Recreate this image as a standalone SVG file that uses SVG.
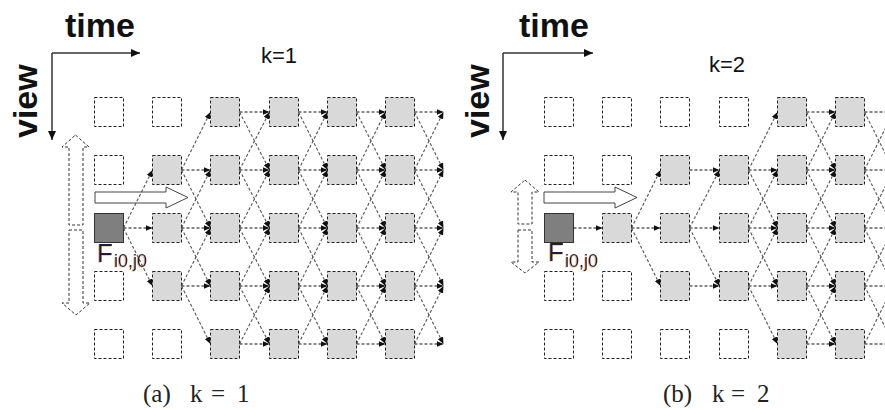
<svg xmlns="http://www.w3.org/2000/svg" width="885" height="410" viewBox="0 0 885 410">
<defs>
<style>
.e{fill:#fff;stroke:#222;stroke-width:1;stroke-dasharray:3,2}
.g{fill:#d9d9d9;stroke:#222;stroke-width:1;stroke-dasharray:3,2}
.f{fill:#7f7f7f;stroke:#333;stroke-width:1}
.h{stroke:#111;stroke-width:1.1;stroke-dasharray:3,2;marker-end:url(#ah)}
.d{stroke:#555;stroke-width:1.1;stroke-dasharray:3,2;marker-end:url(#ah)}
.ax{stroke:#333;stroke-width:1.5;fill:none;marker-end:url(#axh)}
.big{fill:#fff;stroke:#444;stroke-width:1}
.dbl{fill:#fff;stroke:#333;stroke-width:1;stroke-dasharray:3,2}
.lbl{font-family:"Liberation Sans",Arial,sans-serif;font-weight:bold;font-size:34px;fill:#111}
.k{font-family:"Liberation Sans",Arial,sans-serif;font-size:22px;fill:#111}
.F{font-family:"Liberation Sans",Arial,sans-serif;font-size:26px;fill:#1a1a3a}
.sub{font-size:18px}
.cap{font-family:"Liberation Serif","Times New Roman",serif;font-size:25px;fill:#222}
</style>
<marker id="ah" markerWidth="7" markerHeight="6" refX="7" refY="3" orient="auto" markerUnits="userSpaceOnUse"><path d="M0,0 L7,3 L0,6 Z" fill="#111"/></marker>
<marker id="axh" markerWidth="9" markerHeight="8" refX="9" refY="4" orient="auto" markerUnits="userSpaceOnUse"><path d="M0,0 L9,4 L0,8 Z" fill="#111"/></marker>
<filter id="sh" x="-20%" y="-20%" width="140%" height="140%"><feDropShadow dx="-0.8" dy="0.6" stdDeviation="0" flood-color="#e08020" flood-opacity="0.6"/></filter>
</defs>

<!-- axes and labels -->
<g id="axes-a">
<path class="ax" d="M52,53 H140"/>
<path class="ax" d="M52,53 V140"/>
<text class="lbl" x="65" y="37">time</text>
<text class="lbl" transform="translate(37,138) rotate(-90)">view</text>
<text class="k" x="261" y="63">k=1</text>
</g>
<g id="axes-b">
<path class="ax" d="M503,53 H593"/>
<path class="ax" d="M503,53 V140"/>
<text class="lbl" x="519" y="37">time</text>
<text class="lbl" transform="translate(489,138) rotate(-90)">view</text>
<text class="k" x="709" y="72">k=2</text>
</g>

<!-- hollow arrows -->
<g id="hollow-a">
<path class="big" d="M95,192 H166 V187 L188,197.5 L166,208 V203 H95 Z"/>
<path class="dbl" d="M75.5,135 L89,147 H83 V225 H69 V147 H62 Z"/>
<path class="dbl" d="M69,230 H83 V303 H90 L76,315 L62,303 H69 Z"/>
</g>
<g id="hollow-b">
<path class="big" d="M544,192 H615 V187 L637,197.5 L615,208 V203 H544 Z"/>
<path class="dbl" d="M525,180 L539,192 H532 V224 H518 V192 H511 Z"/>
<path class="dbl" d="M518,230 H532 V262 H539 L525,273 L511,262 H518 Z"/>
</g>

<!-- nodes panel a -->
<g id="a-c0r0"><rect class="e" x="94.5" y="97.5" width="29" height="29"/></g>
<g id="a-c0r1"><rect class="e" x="94.5" y="155.5" width="29" height="29"/></g>
<g id="a-F"><rect class="f" x="94.5" y="213.5" width="29" height="29"/></g>
<g id="a-c0r3"><rect class="e" x="94.5" y="271.5" width="29" height="29"/></g>
<g id="a-c0r4"><rect class="e" x="94.5" y="329.5" width="29" height="29"/></g>
<g id="a-c1r0"><rect class="e" x="152.5" y="97.5" width="29" height="29"/></g>
<g id="a-c1r1"><rect class="g" x="152.5" y="155.5" width="29" height="29"/></g>
<g id="a-c1r2"><rect class="g" x="152.5" y="213.5" width="29" height="29"/></g>
<g id="a-c1r3"><rect class="g" x="152.5" y="271.5" width="29" height="29"/></g>
<g id="a-c1r4"><rect class="e" x="152.5" y="329.5" width="29" height="29"/></g>
<g id="a-c2r0"><rect class="g" x="210.5" y="97.5" width="29" height="29"/></g>
<g id="a-c2r1"><rect class="g" x="210.5" y="155.5" width="29" height="29"/></g>
<g id="a-c2r2"><rect class="g" x="210.5" y="213.5" width="29" height="29"/></g>
<g id="a-c2r3"><rect class="g" x="210.5" y="271.5" width="29" height="29"/></g>
<g id="a-c2r4"><rect class="g" x="210.5" y="329.5" width="29" height="29"/></g>
<g id="a-c3r0"><rect class="g" x="269.5" y="97.5" width="29" height="29"/></g>
<g id="a-c3r1"><rect class="g" x="269.5" y="155.5" width="29" height="29"/></g>
<g id="a-c3r2"><rect class="g" x="269.5" y="213.5" width="29" height="29"/></g>
<g id="a-c3r3"><rect class="g" x="269.5" y="271.5" width="29" height="29"/></g>
<g id="a-c3r4"><rect class="g" x="269.5" y="329.5" width="29" height="29"/></g>
<g id="a-c4r0"><rect class="g" x="327.5" y="97.5" width="29" height="29"/></g>
<g id="a-c4r1"><rect class="g" x="327.5" y="155.5" width="29" height="29"/></g>
<g id="a-c4r2"><rect class="g" x="327.5" y="213.5" width="29" height="29"/></g>
<g id="a-c4r3"><rect class="g" x="327.5" y="271.5" width="29" height="29"/></g>
<g id="a-c4r4"><rect class="g" x="327.5" y="329.5" width="29" height="29"/></g>
<g id="a-c5r0"><rect class="g" x="385.5" y="97.5" width="29" height="29"/></g>
<g id="a-c5r1"><rect class="g" x="385.5" y="155.5" width="29" height="29"/></g>
<g id="a-c5r2"><rect class="g" x="385.5" y="213.5" width="29" height="29"/></g>
<g id="a-c5r3"><rect class="g" x="385.5" y="271.5" width="29" height="29"/></g>
<g id="a-c5r4"><rect class="g" x="385.5" y="329.5" width="29" height="29"/></g>

<!-- nodes panel b -->
<g id="b-c0r0"><rect class="e" x="544.5" y="97.5" width="29" height="29"/></g>
<g id="b-c0r1"><rect class="e" x="544.5" y="155.5" width="29" height="29"/></g>
<g id="b-F"><rect class="f" x="544.5" y="213.5" width="29" height="29"/></g>
<g id="b-c0r3"><rect class="e" x="544.5" y="271.5" width="29" height="29"/></g>
<g id="b-c0r4"><rect class="e" x="544.5" y="329.5" width="29" height="29"/></g>
<g id="b-c1r0"><rect class="e" x="602.5" y="97.5" width="29" height="29"/></g>
<g id="b-c1r1"><rect class="e" x="602.5" y="155.5" width="29" height="29"/></g>
<g id="b-c1r2"><rect class="g" x="602.5" y="213.5" width="29" height="29"/></g>
<g id="b-c1r3"><rect class="e" x="602.5" y="271.5" width="29" height="29"/></g>
<g id="b-c1r4"><rect class="e" x="602.5" y="329.5" width="29" height="29"/></g>
<g id="b-c2r0"><rect class="e" x="660.5" y="97.5" width="29" height="29"/></g>
<g id="b-c2r1"><rect class="g" x="660.5" y="155.5" width="29" height="29"/></g>
<g id="b-c2r2"><rect class="g" x="660.5" y="213.5" width="29" height="29"/></g>
<g id="b-c2r3"><rect class="g" x="660.5" y="271.5" width="29" height="29"/></g>
<g id="b-c2r4"><rect class="e" x="660.5" y="329.5" width="29" height="29"/></g>
<g id="b-c3r0"><rect class="e" x="719.5" y="97.5" width="29" height="29"/></g>
<g id="b-c3r1"><rect class="g" x="719.5" y="155.5" width="29" height="29"/></g>
<g id="b-c3r2"><rect class="g" x="719.5" y="213.5" width="29" height="29"/></g>
<g id="b-c3r3"><rect class="g" x="719.5" y="271.5" width="29" height="29"/></g>
<g id="b-c3r4"><rect class="e" x="719.5" y="329.5" width="29" height="29"/></g>
<g id="b-c4r0"><rect class="g" x="777.5" y="97.5" width="29" height="29"/></g>
<g id="b-c4r1"><rect class="g" x="777.5" y="155.5" width="29" height="29"/></g>
<g id="b-c4r2"><rect class="g" x="777.5" y="213.5" width="29" height="29"/></g>
<g id="b-c4r3"><rect class="g" x="777.5" y="271.5" width="29" height="29"/></g>
<g id="b-c4r4"><rect class="g" x="777.5" y="329.5" width="29" height="29"/></g>
<g id="b-c5r0"><rect class="g" x="835.5" y="97.5" width="29" height="29"/></g>
<g id="b-c5r1"><rect class="g" x="835.5" y="155.5" width="29" height="29"/></g>
<g id="b-c5r2"><rect class="g" x="835.5" y="213.5" width="29" height="29"/></g>
<g id="b-c5r3"><rect class="g" x="835.5" y="271.5" width="29" height="29"/></g>
<g id="b-c5r4"><rect class="g" x="835.5" y="329.5" width="29" height="29"/></g>

<!-- connectors -->
<g id="connectors">
<line class="d" x1="123.5" y1="228" x2="152.5" y2="170"/>
<line class="h" x1="123.5" y1="228" x2="152.5" y2="228"/>
<line class="d" x1="123.5" y1="228" x2="152.5" y2="286"/>
<line class="d" x1="181.5" y1="170" x2="210.5" y2="112"/>
<line class="h" x1="181.5" y1="170" x2="210.5" y2="170"/>
<line class="d" x1="181.5" y1="170" x2="210.5" y2="228"/>
<line class="d" x1="181.5" y1="228" x2="210.5" y2="170"/>
<line class="h" x1="181.5" y1="228" x2="210.5" y2="228"/>
<line class="d" x1="181.5" y1="228" x2="210.5" y2="286"/>
<line class="d" x1="181.5" y1="286" x2="210.5" y2="228"/>
<line class="h" x1="181.5" y1="286" x2="210.5" y2="286"/>
<line class="d" x1="181.5" y1="286" x2="210.5" y2="344"/>
<line class="h" x1="239.5" y1="112" x2="269.5" y2="112"/>
<line class="d" x1="239.5" y1="112" x2="269.5" y2="170"/>
<line class="d" x1="239.5" y1="170" x2="269.5" y2="112"/>
<line class="h" x1="239.5" y1="170" x2="269.5" y2="170"/>
<line class="d" x1="239.5" y1="170" x2="269.5" y2="228"/>
<line class="d" x1="239.5" y1="228" x2="269.5" y2="170"/>
<line class="h" x1="239.5" y1="228" x2="269.5" y2="228"/>
<line class="d" x1="239.5" y1="228" x2="269.5" y2="286"/>
<line class="d" x1="239.5" y1="286" x2="269.5" y2="228"/>
<line class="h" x1="239.5" y1="286" x2="269.5" y2="286"/>
<line class="d" x1="239.5" y1="286" x2="269.5" y2="344"/>
<line class="d" x1="239.5" y1="344" x2="269.5" y2="286"/>
<line class="h" x1="239.5" y1="344" x2="269.5" y2="344"/>
<line class="h" x1="298.5" y1="112" x2="327.5" y2="112"/>
<line class="d" x1="298.5" y1="112" x2="327.5" y2="170"/>
<line class="d" x1="298.5" y1="170" x2="327.5" y2="112"/>
<line class="h" x1="298.5" y1="170" x2="327.5" y2="170"/>
<line class="d" x1="298.5" y1="170" x2="327.5" y2="228"/>
<line class="d" x1="298.5" y1="228" x2="327.5" y2="170"/>
<line class="h" x1="298.5" y1="228" x2="327.5" y2="228"/>
<line class="d" x1="298.5" y1="228" x2="327.5" y2="286"/>
<line class="d" x1="298.5" y1="286" x2="327.5" y2="228"/>
<line class="h" x1="298.5" y1="286" x2="327.5" y2="286"/>
<line class="d" x1="298.5" y1="286" x2="327.5" y2="344"/>
<line class="d" x1="298.5" y1="344" x2="327.5" y2="286"/>
<line class="h" x1="298.5" y1="344" x2="327.5" y2="344"/>
<line class="h" x1="356.5" y1="112" x2="385.5" y2="112"/>
<line class="d" x1="356.5" y1="112" x2="385.5" y2="170"/>
<line class="d" x1="356.5" y1="170" x2="385.5" y2="112"/>
<line class="h" x1="356.5" y1="170" x2="385.5" y2="170"/>
<line class="d" x1="356.5" y1="170" x2="385.5" y2="228"/>
<line class="d" x1="356.5" y1="228" x2="385.5" y2="170"/>
<line class="h" x1="356.5" y1="228" x2="385.5" y2="228"/>
<line class="d" x1="356.5" y1="228" x2="385.5" y2="286"/>
<line class="d" x1="356.5" y1="286" x2="385.5" y2="228"/>
<line class="h" x1="356.5" y1="286" x2="385.5" y2="286"/>
<line class="d" x1="356.5" y1="286" x2="385.5" y2="344"/>
<line class="d" x1="356.5" y1="344" x2="385.5" y2="286"/>
<line class="h" x1="356.5" y1="344" x2="385.5" y2="344"/>
<line class="h" x1="414.5" y1="112" x2="443.5" y2="112"/>
<line class="d" x1="414.5" y1="112" x2="443.5" y2="170"/>
<line class="d" x1="414.5" y1="170" x2="443.5" y2="112"/>
<line class="h" x1="414.5" y1="170" x2="443.5" y2="170"/>
<line class="d" x1="414.5" y1="170" x2="443.5" y2="228"/>
<line class="d" x1="414.5" y1="228" x2="443.5" y2="170"/>
<line class="h" x1="414.5" y1="228" x2="443.5" y2="228"/>
<line class="d" x1="414.5" y1="228" x2="443.5" y2="286"/>
<line class="d" x1="414.5" y1="286" x2="443.5" y2="228"/>
<line class="h" x1="414.5" y1="286" x2="443.5" y2="286"/>
<line class="d" x1="414.5" y1="286" x2="443.5" y2="344"/>
<line class="d" x1="414.5" y1="344" x2="443.5" y2="286"/>
<line class="h" x1="414.5" y1="344" x2="443.5" y2="344"/>
<line class="h" x1="573.5" y1="228" x2="602.5" y2="228"/>
<line class="d" x1="631.5" y1="228" x2="660.5" y2="170"/>
<line class="h" x1="631.5" y1="228" x2="660.5" y2="228"/>
<line class="d" x1="631.5" y1="228" x2="660.5" y2="286"/>
<line class="h" x1="689.5" y1="170" x2="719.5" y2="170"/>
<line class="d" x1="689.5" y1="228" x2="719.5" y2="170"/>
<line class="h" x1="689.5" y1="228" x2="719.5" y2="228"/>
<line class="d" x1="689.5" y1="228" x2="719.5" y2="286"/>
<line class="h" x1="689.5" y1="286" x2="719.5" y2="286"/>
<line class="d" x1="748.5" y1="170" x2="777.5" y2="112"/>
<line class="h" x1="748.5" y1="170" x2="777.5" y2="170"/>
<line class="d" x1="748.5" y1="170" x2="777.5" y2="228"/>
<line class="d" x1="748.5" y1="228" x2="777.5" y2="170"/>
<line class="h" x1="748.5" y1="228" x2="777.5" y2="228"/>
<line class="d" x1="748.5" y1="228" x2="777.5" y2="286"/>
<line class="d" x1="748.5" y1="286" x2="777.5" y2="228"/>
<line class="h" x1="748.5" y1="286" x2="777.5" y2="286"/>
<line class="d" x1="748.5" y1="286" x2="777.5" y2="344"/>
<line class="h" x1="806.5" y1="112" x2="835.5" y2="112"/>
<line class="d" x1="806.5" y1="112" x2="835.5" y2="170"/>
<line class="d" x1="806.5" y1="170" x2="835.5" y2="112"/>
<line class="h" x1="806.5" y1="170" x2="835.5" y2="170"/>
<line class="d" x1="806.5" y1="170" x2="835.5" y2="228"/>
<line class="d" x1="806.5" y1="228" x2="835.5" y2="170"/>
<line class="h" x1="806.5" y1="228" x2="835.5" y2="228"/>
<line class="d" x1="806.5" y1="228" x2="835.5" y2="286"/>
<line class="d" x1="806.5" y1="286" x2="835.5" y2="228"/>
<line class="h" x1="806.5" y1="286" x2="835.5" y2="286"/>
<line class="d" x1="806.5" y1="286" x2="835.5" y2="344"/>
<line class="d" x1="806.5" y1="344" x2="835.5" y2="286"/>
<line class="h" x1="806.5" y1="344" x2="835.5" y2="344"/>
<line class="h" x1="864.5" y1="112" x2="893.5" y2="112"/>
<line class="d" x1="864.5" y1="112" x2="893.5" y2="170"/>
<line class="d" x1="864.5" y1="170" x2="893.5" y2="112"/>
<line class="h" x1="864.5" y1="170" x2="893.5" y2="170"/>
<line class="d" x1="864.5" y1="170" x2="893.5" y2="228"/>
<line class="d" x1="864.5" y1="228" x2="893.5" y2="170"/>
<line class="h" x1="864.5" y1="228" x2="893.5" y2="228"/>
<line class="d" x1="864.5" y1="228" x2="893.5" y2="286"/>
<line class="d" x1="864.5" y1="286" x2="893.5" y2="228"/>
<line class="h" x1="864.5" y1="286" x2="893.5" y2="286"/>
<line class="d" x1="864.5" y1="286" x2="893.5" y2="344"/>
<line class="d" x1="864.5" y1="344" x2="893.5" y2="286"/>
<line class="h" x1="864.5" y1="344" x2="893.5" y2="344"/>
</g>

<!-- F labels -->
<g id="label-a"><text class="F" x="97" y="262" filter="url(#sh)">F<tspan class="sub" x="114" y="267">i0,j0</tspan></text></g>
<g id="label-b"><text class="F" x="548" y="261" filter="url(#sh)">F<tspan class="sub" x="565" y="267">i0,j0</tspan></text></g>

<!-- captions -->
<g id="caption-a"><text class="cap" x="143" y="402">(a)<tspan x="190">k</tspan><tspan x="211">=</tspan><tspan x="237">1</tspan></text></g>
<g id="caption-b"><text class="cap" x="663" y="402">(b)<tspan x="712">k</tspan><tspan x="731">=</tspan><tspan x="757">2</tspan></text></g>
</svg>
